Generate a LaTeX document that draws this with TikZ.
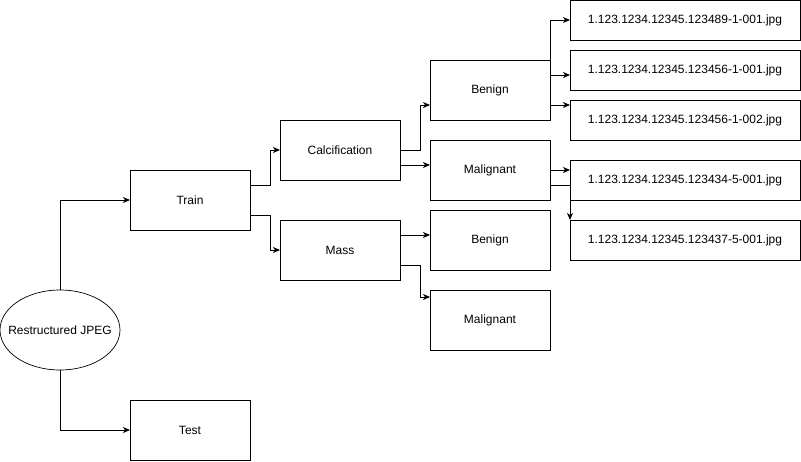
\documentclass[tikz,border=0pt]{standalone}
\usepackage{fontspec}
\setmainfont{Liberation Sans}
\usetikzlibrary{arrows.meta,shapes.geometric}
\begin{document}
\begin{tikzpicture}[x=1pt,y=-1pt,line width=1pt,
  every node/.style={font=\fontsize{12}{14}\selectfont},
  box/.style={draw,minimum width=120pt,minimum height=60pt,inner sep=0pt,outer sep=0pt},
  filebox/.style={draw,minimum width=230pt,minimum height=40pt,inner sep=0pt,outer sep=0pt},
  arr/.style={-{Stealth[length=7pt,width=6pt,inset=2pt]}}]
\useasboundingbox[fill=white] (0,0) rectangle (801,461);
\node[ellipse,draw,minimum width=120pt,minimum height=80pt,inner sep=0pt,outer sep=0pt,line width=0.7pt] (root) at (60,330) {\makebox[0pt]{Restructured JPEG}};
\node[box] (train) at (190,200) {Train};
\node[box] (test) at (190,430) {Test};
\node[box] (calc) at (340,150) {Calcification};
\node[box] (mass) at (340,250) {Mass};
\node[box] (ben1) at (490,90) {Benign};
\node[box] (mal1) at (490,170) {Malignant};
\node[box] (ben2) at (490,240) {Benign};
\node[box] (mal2) at (490,320) {Malignant};
\node[filebox] (f1) at (685,20) {1.123.1234.12345.123489-1-001.jpg};
\node[filebox] (f2) at (685,70) {1.123.1234.12345.123456-1-001.jpg};
\node[filebox] (f3) at (685,120) {1.123.1234.12345.123456-1-002.jpg};
\node[filebox] (f4) at (685,180) {1.123.1234.12345.123434-5-001.jpg};
\node[filebox] (f5) at (685,240) {1.123.1234.12345.123437-5-001.jpg};

\draw[arr] (root.north) |- (train.west);
\draw[arr] (root.south) |- (test.west);
\draw[arr] ([yshift=15pt]train.east) -- ++(20,0) |- (calc.west);
\draw[arr] ([yshift=-15pt]train.east) -- ++(20,0) |- (mass.west);
\draw[arr] (calc.east) -- ++(20,0) |- ([yshift=-15pt]ben1.west);
\draw[arr] ([yshift=-15pt]calc.east) -- ([yshift=-15pt]calc.east -| mal1.west);
\draw[arr] ([yshift=15pt]mass.east) -- ([yshift=15pt]mass.east -| ben2.west);
\draw[arr] ([yshift=-15pt]mass.east) -- ++(20,0) |- ([yshift=23pt]mal2.west);
\draw[arr] (ben1.north east) |- (f1.west);
\draw[arr] ([yshift=15pt]ben1.east) -- ([yshift=15pt]ben1.east -| f2.west);
\draw[arr] ([yshift=-15pt]ben1.east) -- ([yshift=-15pt]ben1.east -| f3.west);
\draw[arr] (mal1.east) -- (mal1.east -| f4.west);
\draw[arr] ([yshift=-15pt]mal1.east) -| (f5.north west);
\end{tikzpicture}
\end{document}
